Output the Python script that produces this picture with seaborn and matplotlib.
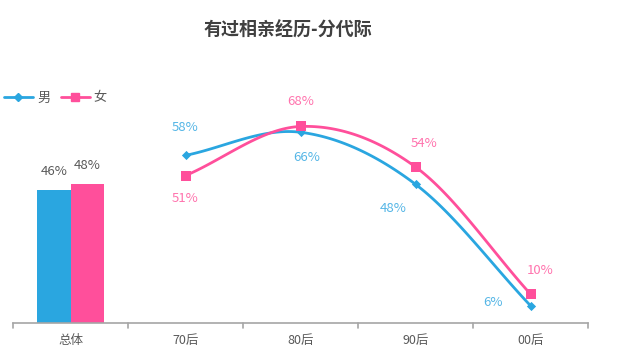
import numpy as np
import pandas as pd
import matplotlib
matplotlib.use("Agg")
import matplotlib.pyplot as plt
from matplotlib.lines import Line2D
import seaborn as sns

# data
categories = ["总体", "70后", "80后", "90后", "00后"]
genders = ["男", "女"]
overall = [46, 48]                 # 总体: 男, 女
gen_labels = ["70后", "80后", "90后", "00后"]
male = [58, 66, 48, 6]
female = [51, 68, 54, 10]

blue = "#2AA6E0"
pink = "#FF4F9B"
blue_txt = "#55B6E6"
pink_txt = "#FF74AE"
gray = "#595959"

sns.set_style("white")
plt.rcParams["font.family"] = ["Noto Sans CJK SC", "DejaVu Sans"]

fig = plt.figure(figsize=(6.35, 3.53), dpi=100)
ax = fig.add_axes([13 / 635, 30 / 353, 575 / 635, 289 / 353])

df_total = pd.DataFrame({"代际": ["总体", "总体"], "性别": genders, "比例": overall})
sns.barplot(data=df_total, x="代际", y="比例", hue="性别", order=categories,
            hue_order=genders, palette=[blue, pink], saturation=1,
            width=0.574, legend=False, linewidth=0, ax=ax)

for cont in ax.containers:
    ax.bar_label(cont, labels=[f"{v:.0f}%" for v in cont.datavalues],
                 padding=9, fontsize=9.5, color=gray)


def smooth(xv, yv, n=40):
    # Catmull-Rom style curve through the points (like Excel's smoothed line)
    xv = np.asarray(xv, float)
    yv = np.asarray(yv, float)
    px = np.concatenate([[2 * xv[0] - xv[1]], xv, [2 * xv[-1] - xv[-2]]])
    py = np.concatenate([[2 * yv[0] - yv[1]], yv, [2 * yv[-1] - yv[-2]]])
    ox, oy = [], []
    t = np.linspace(0, 1, n)
    for i in range(1, len(px) - 2):
        for p, o in ((px, ox), (py, oy)):
            p0, p1, p2, p3 = p[i - 1], p[i], p[i + 1], p[i + 2]
            c1 = p1 + (p2 - p0) / 6
            c2 = p2 - (p3 - p1) / 6
            o.extend((1 - t) ** 3 * p1 + 3 * (1 - t) ** 2 * t * c1
                     + 3 * (1 - t) * t ** 2 * c2 + t ** 3 * p2)
    return np.array(ox), np.array(oy)


xpos = [categories.index(g) for g in gen_labels]

sx, sy = smooth(xpos, male)
ax.plot(sx, sy, color=blue, lw=2, solid_capstyle="round", zorder=3)
sx, sy = smooth(xpos, female)
ax.plot(sx, sy, color=pink, lw=2, solid_capstyle="round", zorder=3)

ax.scatter(xpos, male, marker="D", s=22, color=blue, zorder=4, linewidths=0)
ax.scatter(xpos, female, marker="s", s=45, color=pink, zorder=4, linewidths=0)

male_off = [(0, 28), (6, -25), (-22, -24), (-37, 3)]
female_off = [(0, -23), (0, 25), (9, 23), (10, 24)]
for x, v, o in zip(xpos, male, male_off):
    ax.annotate(f"{v}%", (x, v), xytext=o, textcoords="offset pixels",
                ha="center", va="center", fontsize=9.5, color=blue_txt)
for x, v, o in zip(xpos, female, female_off):
    ax.annotate(f"{v}%", (x, v), xytext=o, textcoords="offset pixels",
                ha="center", va="center", fontsize=9.5, color=pink_txt)

ax.set_xlim(-0.5, 4.5)
ax.set_ylim(0, 100)
ax.set_yticks([])
ax.set_xlabel("")
ax.set_ylabel("")
for s in ["top", "right", "left"]:
    ax.spines[s].set_visible(False)
ax.spines["bottom"].set_color("#A6A6A6")
ax.spines["bottom"].set_linewidth(1.2)
ax.set_xticks(range(len(categories)))
ax.set_xticklabels(categories, fontsize=9, color=gray)
ax.tick_params(axis="x", length=0, pad=8)
for b in np.arange(-0.5, 4.6, 1):
    ax.plot([b, b], [0, -1.6], color="#A6A6A6", lw=1.2, clip_on=False)

fig.text(288 / 635, 1 - 30 / 353, "有过相亲经历-分代际", ha="center", va="center",
         fontsize=13, fontweight="bold", color="#404040")

handles = [Line2D([], [], color=blue, lw=2, marker="D", markersize=4),
           Line2D([], [], color=pink, lw=2, marker="s", markersize=6)]
fig.legend(handles, genders, loc="center left", bbox_to_anchor=(0.0, 1 - 98 / 353),
           ncol=2, frameon=False, fontsize=9.5, handlelength=2.2, handletextpad=0.3,
           columnspacing=0.8, labelcolor=gray, borderaxespad=0, borderpad=0.3)

fig.savefig("out.png", dpi=100)
